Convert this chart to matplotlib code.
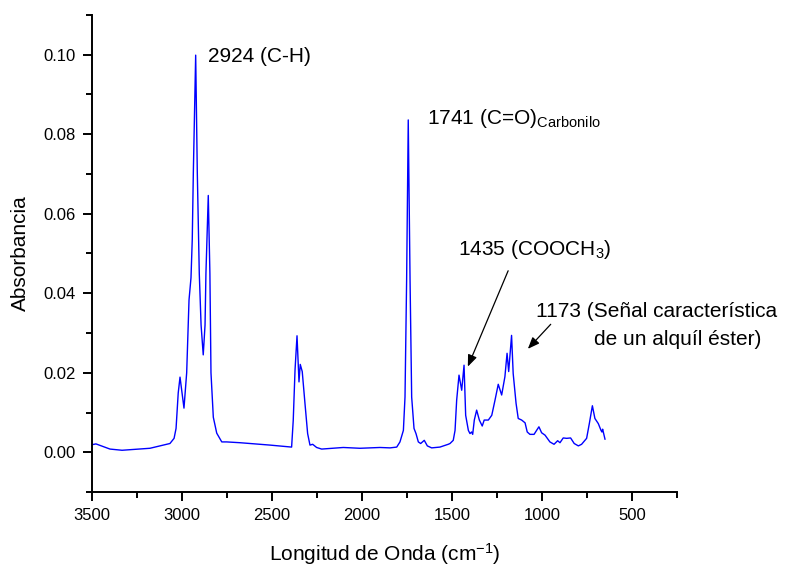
# FTIR spectrum with peak annotations
import numpy as np
import matplotlib.pyplot as plt
from matplotlib.ticker import MultipleLocator

plt.rcParams['font.family'] = ['Liberation Sans', 'DejaVu Sans']
plt.rcParams['mathtext.default'] = 'regular'

# wavenumber (cm-1) and absorbance
wavenumber = [3500, 3478, 3400, 3333, 3178, 3067, 3044, 3033, 3021, 3011,
              3000, 2989, 2974, 2961, 2950, 2943, 2937, 2924, 2915, 2904,
              2894, 2882, 2872, 2867, 2854, 2845, 2839, 2826, 2807, 2779,
              2752, 2678, 2622, 2511, 2439, 2391, 2382, 2372, 2361, 2350,
              2343, 2332, 2317, 2302, 2289, 2274, 2252, 2224, 2104, 2011,
              1900, 1844, 1807, 1789, 1770, 1761, 1752, 1743, 1733, 1724,
              1711, 1700, 1687, 1674, 1654, 1637, 1613, 1567, 1521, 1511,
              1493, 1483, 1474, 1461, 1446, 1433, 1424, 1409, 1400, 1391,
              1385, 1376, 1363, 1348, 1332, 1321, 1298, 1279, 1261, 1243,
              1224, 1206, 1194, 1185, 1169, 1160, 1144, 1132, 1113, 1094,
              1082, 1067, 1044, 1030, 1017, 1002, 983, 956, 933, 913,
              900, 882, 863, 841, 821, 798, 780, 752, 737, 720,
              706, 687, 672, 667, 663, 650]
absorbance = [0.0019, 0.0021, 0.0008, 0.0005, 0.0010, 0.0022, 0.0035, 0.0060, 0.0149, 0.0189,
              0.0150, 0.0111, 0.0200, 0.0383, 0.0439, 0.0535, 0.0704, 0.0999, 0.0704, 0.0450,
              0.0320, 0.0245, 0.0320, 0.0450, 0.0646, 0.0450, 0.0200, 0.0088, 0.0048, 0.0026,
              0.0026, 0.0024, 0.0022, 0.0018, 0.0015, 0.0013, 0.0080, 0.0207, 0.0293, 0.0177,
              0.0221, 0.0203, 0.0124, 0.0047, 0.0018, 0.0020, 0.0012, 0.0008, 0.0012, 0.0010,
              0.0012, 0.0011, 0.0013, 0.0026, 0.0055, 0.0139, 0.0434, 0.0836, 0.0434, 0.0139,
              0.0060, 0.0047, 0.0026, 0.0022, 0.0030, 0.0016, 0.0011, 0.0013, 0.0020, 0.0022,
              0.0030, 0.0055, 0.0131, 0.0194, 0.0156, 0.0219, 0.0093, 0.0055, 0.0047, 0.0051,
              0.0045, 0.0081, 0.0106, 0.0081, 0.0066, 0.0081, 0.0081, 0.0093, 0.0131, 0.0171,
              0.0144, 0.0190, 0.0249, 0.0203, 0.0294, 0.0198, 0.0123, 0.0085, 0.0081, 0.0074,
              0.0051, 0.0045, 0.0045, 0.0055, 0.0064, 0.0049, 0.0043, 0.0026, 0.0020, 0.0029,
              0.0024, 0.0036, 0.0035, 0.0036, 0.0022, 0.0016, 0.0020, 0.0035, 0.0072, 0.0117,
              0.0085, 0.0072, 0.0055, 0.0051, 0.0058, 0.0033]

fig = plt.figure(figsize=(7.87, 5.68), dpi=100)
ax = fig.add_axes([0.1169, 0.1338, 0.7433, 0.8398])

ax.plot(wavenumber, absorbance, color='#0000FF', linewidth=1.0)

ax.set_xlim(3500, 250)
ax.set_ylim(-0.01, 0.11)
ax.xaxis.set_major_locator(MultipleLocator(500))
ax.xaxis.set_minor_locator(MultipleLocator(250))
ax.yaxis.set_major_locator(MultipleLocator(0.02))
ax.yaxis.set_minor_locator(MultipleLocator(0.01))
ax.yaxis.set_major_formatter(plt.FormatStrFormatter('%.2f'))

ax.spines['top'].set_visible(False)
ax.spines['right'].set_visible(False)
ax.spines['left'].set_linewidth(1.4)
ax.spines['bottom'].set_linewidth(1.4)
ax.tick_params(which='major', direction='out', length=6.5, width=1.4, labelsize=12, pad=5)
ax.tick_params(which='minor', direction='out', length=4, width=1.4)

ax.set_xlabel('Longitud de Onda (cm$^{-1}$)', fontsize=15, labelpad=13)
ax.set_ylabel('Absorbancia', fontsize=15, labelpad=10)

# peak labels
ax.text(2856, 0.0983, '2924 (C-H)', fontsize=15, va='baseline', ha='left')
ax.text(1640, 0.0827, '1741 (C=O)$_{Carbonilo}$', fontsize=15, va='baseline', ha='left')
ax.text(1465, 0.0497, '1435 (COOCH$_3$)', fontsize=15, va='baseline', ha='left')
ax.text(1033, 0.0341, '1173 (Señal característica', fontsize=15, va='baseline', ha='left')
ax.text(709, 0.0270, 'de un alquíl éster)', fontsize=15, va='baseline', ha='left')

arrow = dict(arrowstyle='-|>,head_length=0.5,head_width=0.2', color='black', lw=0.9, mutation_scale=14)
ax.annotate('', xy=(1418, 0.0209), xytext=(1182, 0.0463), arrowprops=arrow)
ax.annotate('', xy=(1089, 0.0255), xytext=(941, 0.0327), arrowprops=arrow)

fig.savefig('out.png', dpi=100)
